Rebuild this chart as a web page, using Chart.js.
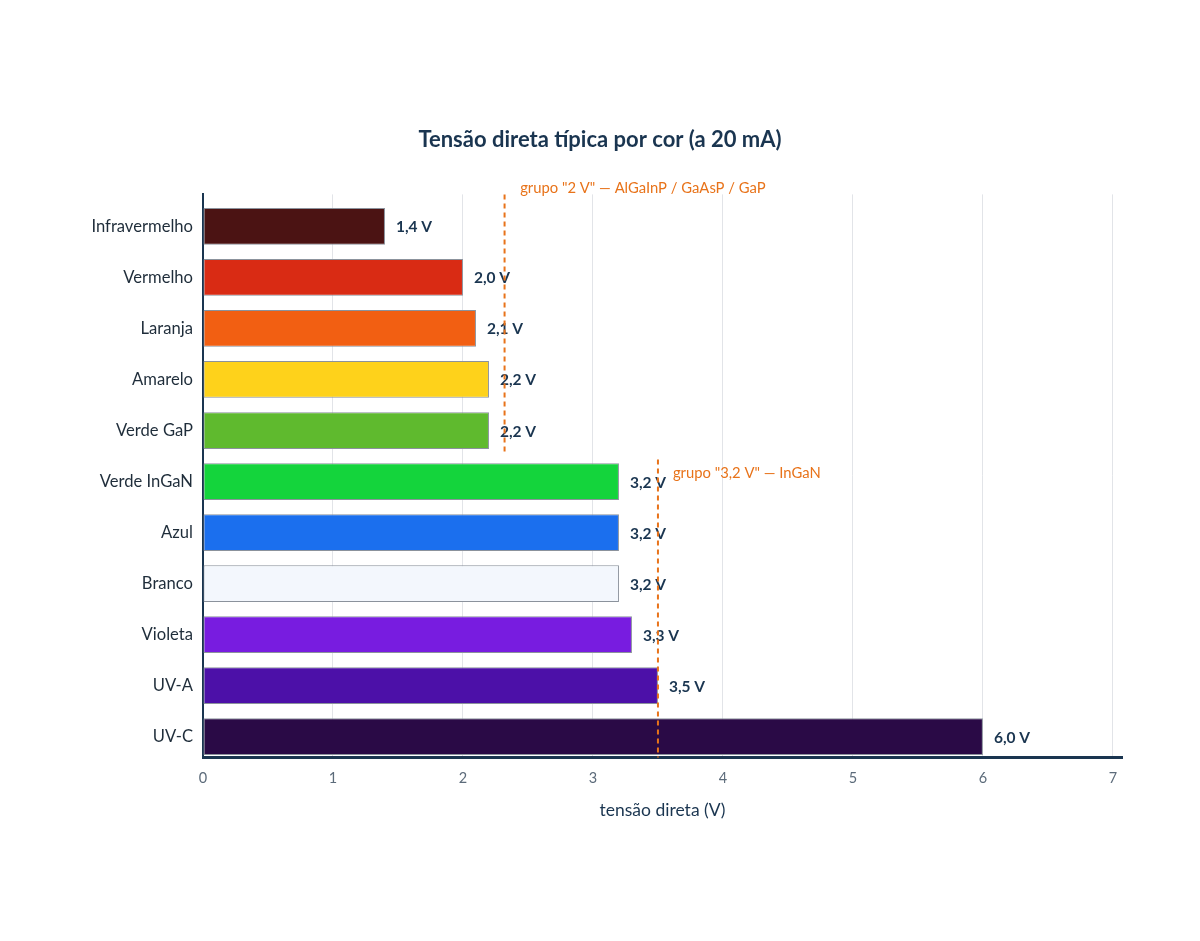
<!DOCTYPE html>
<html>
<head>
<meta charset="utf-8">
<script src="https://cdn.jsdelivr.net/npm/chart.js@4"></script>
<style>
  html, body { margin: 0; padding: 0; background: #fff; }
  #wrap { width: 1200px; height: 941px; }
</style>
</head>
<body>
<div id="wrap"><canvas id="grafico" width="1200" height="941"></canvas></div>
<script>
const cores = ["Infravermelho", "Vermelho", "Laranja", "Amarelo", "Verde GaP", "Verde InGaN", "Azul", "Branco", "Violeta", "UV-A", "UV-C"];
const tensoes = [1.4, 2.0, 2.1, 2.2, 2.2, 3.2, 3.2, 3.2, 3.3, 3.5, 6.0];
const coresBarras = ["#4b1313", "#d92b14", "#f25f12", "#fed21b", "#5fba2e", "#14d43c", "#1b6fee", "#f3f7fd", "#781ce0", "#4c10a8", "#2a0a46"];
const ticksX = [0, 1, 2, 3, 4, 5, 6, 7];

// linhas de grupo: valor x, faixa em índices de categoria, texto e posição do texto
const grupos = [
  { x: 2.32, de: -0.627, ate: 4.49, texto: "grupo \"2 V\" — AlGaInP / GaAsP / GaP", tx: 2.44, ty: -0.745 },
  { x: 3.5, de: 4.57, ate: 10.41, texto: "grupo \"3,2 V\" — InGaN", tx: 3.615, ty: 4.84 }
];

const LARANJA = "#e8731a";
const NAVY = "#1a3550";

const pluginRotulos = {
  id: "rotulos",
  afterDatasetsDraw(chart) {
    const ctx = chart.ctx;
    const meta = chart.getDatasetMeta(0);
    ctx.save();
    ctx.font = "bold 15.5px Lato";
    ctx.fillStyle = NAVY;
    ctx.textAlign = "left";
    ctx.textBaseline = "middle";
    meta.data.forEach((bar, i) => {
      ctx.fillText(tensoes[i].toFixed(1).replace(".", ",") + " V", bar.x + 11, bar.y + 1);
    });
    ctx.restore();
  }
};

const pluginGrupos = {
  id: "grupos",
  afterDatasetsDraw(chart) {
    const ctx = chart.ctx;
    const sx = chart.scales.x, sy = chart.scales.y;
    ctx.save();
    grupos.forEach(g => {
      const px = sx.getPixelForValue(g.x);
      ctx.strokeStyle = LARANJA;
      ctx.lineWidth = 2;
      ctx.setLineDash([5, 4]);
      ctx.beginPath();
      ctx.moveTo(px, sy.getPixelForValue(g.de));
      ctx.lineTo(px, sy.getPixelForValue(g.ate));
      ctx.stroke();
      ctx.setLineDash([]);
      ctx.font = "14.8px Lato";
      ctx.fillStyle = LARANJA;
      ctx.textAlign = "left";
      ctx.textBaseline = "middle";
      ctx.fillText(g.texto, sx.getPixelForValue(g.tx), sy.getPixelForValue(g.ty));
    });
    ctx.restore();
  }
};

new Chart(document.getElementById("grafico"), {
  type: "bar",
  data: {
    datasets: [{
      data: tensoes.map((v, i) => ({ x: v, y: i })),
      backgroundColor: coresBarras,
      borderColor: "#8b929c",
      borderWidth: 1,
      borderSkipped: false,
      categoryPercentage: 1,
      barPercentage: 0.72
    }]
  },
  options: {
    indexAxis: "y",
    responsive: false,
    animation: false,
    layout: { padding: { top: 118, right: 78, bottom: 116, left: 78 } },
    plugins: {
      legend: { display: false },
      tooltip: { enabled: false },
      title: {
        display: true,
        text: "Tensão direta típica por cor (a 20 mA)",
        color: NAVY,
        font: { family: "Lato", size: 22, weight: "bold" },
        padding: { top: 9, bottom: 41 }
      }
    },
    scales: {
      x: {
        type: "linear",
        min: 0,
        max: 7.07,
        afterBuildTicks(scale) { scale.ticks = ticksX.map(v => ({ value: v })); },
        grid: { color: "#e2e4e8", lineWidth: 1, drawTicks: false },
        border: { color: NAVY, width: 3 },
        ticks: { color: "#5c6b7a", font: { family: "Lato", size: 14.5 }, padding: 12 },
        title: {
          display: true,
          text: "tensão direta (V)",
          color: NAVY,
          font: { family: "Lato", size: 17.5 },
          padding: { top: 1 }
        }
      },
      y: {
        type: "linear",
        reverse: true,
        offset: false,
        min: -0.627,
        max: 10.41,
        afterBuildTicks(scale) { scale.ticks = cores.map((c, i) => ({ value: i })); },
        afterFit(scale) { scale.width = 125; },
        grid: { display: false, drawTicks: false, offset: false },
        border: { color: NAVY, width: 2 },
        ticks: {
          color: "#1f2d3a",
          font: { family: "Lato", size: 16.6 },
          padding: 10,
          callback: (v) => cores[v]
        }
      }
    }
  },
  plugins: [pluginRotulos, pluginGrupos]
});
</script>
</body>
</html>
